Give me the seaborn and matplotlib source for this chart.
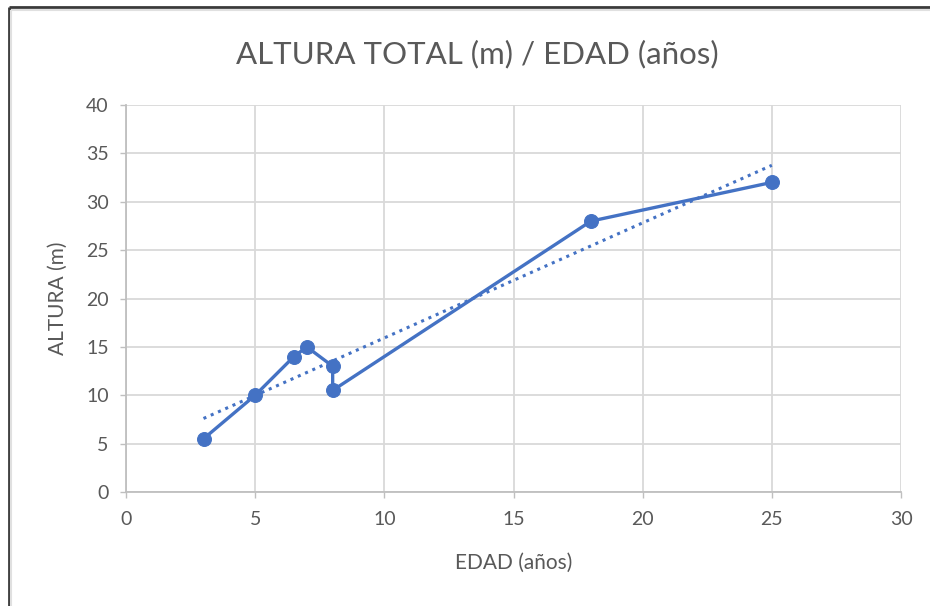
import matplotlib
matplotlib.use("Agg")
import matplotlib.pyplot as plt
from matplotlib.lines import Line2D
import pandas as pd
import seaborn as sns

# Tree height versus age
edad = [3, 5, 6.5, 7, 8, 8, 18, 25]
altura = [5.5, 10, 14, 15, 13, 10.5, 28, 32]
x_ticks = [0, 5, 10, 15, 20, 25, 30]
y_ticks = [0, 5, 10, 15, 20, 25, 30, 35, 40]

df = pd.DataFrame({"EDAD": edad, "ALTURA": altura})

sns.set_theme(style="white")
plt.rcParams["font.family"] = ["Lato", "DejaVu Sans"]

BLUE = "#4472C4"
GRID = "#D9D9D9"
TEXT = "#595959"

W, H = 930, 606
fig = plt.figure(figsize=(W / 100, H / 100), dpi=100)
fig.patch.set_facecolor("white")
fig.patch.set_edgecolor("white")
ax = fig.add_axes([126 / W, 1 - 492 / H, (901 - 126) / W, (492 - 105) / H])

# Dotted linear trend line
sns.regplot(data=df, x="EDAD", y="ALTURA", ax=ax, scatter=False, ci=None,
            truncate=True, color=BLUE,
            line_kws={"linestyle": (0, (1, 1.6)), "linewidth": 2.2, "zorder": 3})

# Data series connected in recorded order
sns.lineplot(data=df, x="EDAD", y="ALTURA", ax=ax, sort=False, estimator=None,
             color=BLUE, linewidth=2.4, marker="o", markersize=10,
             markeredgecolor=BLUE, zorder=4)

ax.set_xlim(0, 30)
ax.set_ylim(0, 40)
ax.set_xticks(x_ticks)
ax.set_yticks(y_ticks)
ax.grid(True, color=GRID, linewidth=1.3, zorder=0)
ax.set_axisbelow(True)
for s in ["top", "right"]:
    ax.spines[s].set_visible(False)
for s in ["left", "bottom"]:
    ax.spines[s].set_color("#BFBFBF")
    ax.spines[s].set_linewidth(1.3)
    ax.spines[s].set_zorder(1)

ax.tick_params(axis="both", which="major", length=4.5, width=1.0,
               color="#BFBFBF", labelcolor=TEXT, labelsize=14, direction="out")
ax.tick_params(axis="y", pad=8)
ax.tick_params(axis="x", pad=9)
ax.tick_params(left=True, bottom=True)

ax.set_xlabel("EDAD (años)", fontsize=15, color=TEXT, labelpad=18)
ax.set_ylabel("ALTURA (m)", fontsize=15, color=TEXT, labelpad=13)

fig.text(477 / W, 1 - 54 / H, "ALTURA TOTAL (m) / EDAD (años)", fontsize=22.5,
         color=TEXT, ha="center", va="center")

# Chart frame: left and top edges only
def frame_line(xs, ys, color, lw):
    fig.add_artist(Line2D([x / W for x in xs], [1 - y / H for y in ys],
                          transform=fig.transFigure, color=color, linewidth=lw,
                          solid_capstyle="butt"))

frame_line([8.5, 8.5], [7, H], "#3A3A3A", 2.0)
frame_line([8.5, W], [7, 7], "#3A3A3A", 2.0)
frame_line([11, 11], [10, H], "#E0E0E0", 1.5)
frame_line([11, W], [10, 10], "#E0E0E0", 1.5)

fig.savefig("out.png", dpi=100, facecolor="white", edgecolor="white")
